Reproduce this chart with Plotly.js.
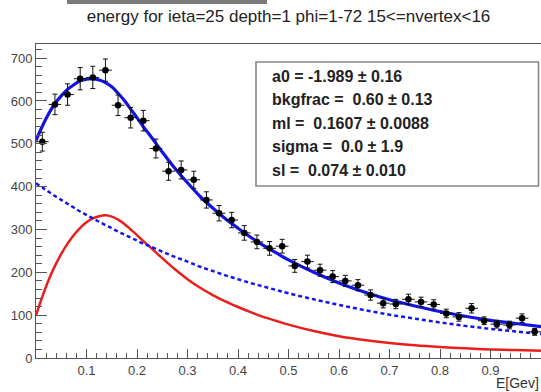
<!DOCTYPE html>
<html>
<head>
<meta charset="utf-8">
<script src="https://cdn.plot.ly/plotly-3.0.1.min.js"></script>
<style>
html,body{margin:0;padding:0;background:#fff;overflow:hidden;}
#chart{width:541px;height:392px;}
</style>
</head>
<body>
<div id="chart"></div>
<script>
// Histogram bin centres (E[GeV]) and counts
const binCenters = [0.0125,0.0375,0.0625,0.0875,0.1125,0.1375,0.1625,0.1875,0.2125,0.2375,
                    0.2625,0.2875,0.3125,0.3375,0.3625,0.3875,0.4125,0.4375,0.4625,0.4875,
                    0.5125,0.5375,0.5625,0.5875,0.6125,0.6375,0.6625,0.6875,0.7125,0.7375,
                    0.7625,0.7875,0.8125,0.8375,0.8625,0.8875,0.9125,0.9375,0.9625,0.9875];
const counts = [505,592,615,652,655,672,590,561,554,489,
                436,439,416,369,338,322,292,271,256,261,
                215,225,205,190,180,170,147,128,126,137,
                131,125,104,96,116,87,79,77,93,61];
const countErr = [22,24,25,26,26,26,24,24,24,22,
                  21,21,20,19,18,18,17,16,16,16,
                  15,15,14,14,13,13,12,11,11,12,
                  11,11,10,10,11,9,9,9,10,8];
const binHalfWidth = 0.0125;

// Fit curves
const curveX = [0,0.0125,0.025,0.0375,0.05,0.0625,0.075,0.0875,0.1,0.1125,0.125,0.1375,0.15,
                0.1625,0.175,0.1875,0.2,0.2125,0.225,0.25,0.275,0.3,0.325,0.35,0.375,0.4,
                0.425,0.45,0.475,0.5,0.55,0.6,0.65,0.7,0.75,0.8,0.85,0.9,0.95,1.0];
const totalFit = [508,541,570,594,612,627,638,647,651,652,649,643,633,
                  618,601,581,561,540,521,481,443,409,377,350,325,303,
                  282,263,246,229,200,175,154,136,121.5,108.5,97.5,88,80.5,73];
const bkgFit = [408,398,388,378,369,360,351,342,334,326,318,310,303,
                295,288,281,274,267,261,248,236,225,213,203,193,184,
                175,167,159,151,137,124,112,101,92,83,75,68,62,56];
const sigFit = [100,143,182,215,243,267,287,304,317,326,331,333,330,
                323,313,300,287,273,260,233,207,184,164,147,132,119,
                107,96,87,78,63,51,42,35,29.5,25.5,22.5,20,18.5,17];

const statLines = ["a0 = -1.989 \u00b1 0.16",
                   "bkgfrac =  0.60 \u00b1 0.13",
                   "ml =  0.1607 \u00b1 0.0088",
                   "sigma =  0.0 \u00b1 1.9",
                   "sl =  0.074 \u00b1 0.010"];
const titleText = "energy for ieta=25 depth=1 phi=1-72 15<=nvertex<16";
const xTitle = "E[Gev]";
const xTickVals = [0.1,0.2,0.3,0.4,0.5,0.6,0.7,0.8,0.9,1.0];
const xTickText = ["0.1","0.2","0.3","0.4","0.5","0.6","0.7","0.8","0.9","1"];

const font = "Liberation Sans, Arial, Helvetica, sans-serif";

const traces = [
  {x: curveX, y: sigFit, mode: 'lines', line: {color: 'rgb(235,30,30)', width: 2.5, shape: 'spline', smoothing: 0.8}, hoverinfo: 'skip'},
  {x: curveX, y: bkgFit, mode: 'lines', line: {color: 'rgb(20,20,235)', width: 2.5, dash: '4px,3px', shape: 'spline'}, hoverinfo: 'skip'},
  {x: curveX, y: totalFit, mode: 'lines', line: {color: 'rgb(20,20,225)', width: 3.2, shape: 'spline', smoothing: 0.8}, hoverinfo: 'skip'},
  {x: binCenters, y: counts, mode: 'markers', marker: {color: '#000', size: 6.5, symbol: 'circle'},
   error_y: {type: 'data', array: countErr, visible: true, color: '#111', thickness: 1, width: 2.5},
   error_x: {type: 'constant', value: binHalfWidth, visible: true, color: '#111', thickness: 1, width: 0}}
];

const py = v => (358 - v) / 314;
const px = v => (v - 36) / 505;
const rowY = [76, 99.5, 123, 146.5, 170];

const annotations = statLines.map((t, i) => ({
  xref: 'paper', yref: 'paper', x: px(270), y: py(rowY[i]), xanchor: 'left', yanchor: 'middle',
  text: '<b>' + t + '</b>', showarrow: false, font: {family: font, size: 16, color: '#222'}
}));
annotations.push({xref: 'paper', yref: 'paper', x: 1, y: py(383), xanchor: 'right', yanchor: 'middle',
  text: xTitle, showarrow: false, font: {family: font, size: 14, color: '#333'}});

const layout = {
  width: 541, height: 392,
  margin: {l: 36, r: 0, t: 44, b: 34},
  paper_bgcolor: '#fff', plot_bgcolor: '#fff',
  showlegend: false,
  title: {text: titleText, x: 0.5, xref: 'paper', y: 1 - 16/392, yanchor: 'middle',
          font: {family: font, size: 17, color: '#222'}},
  xaxis: {range: [0, 1], tickmode: 'array', tickvals: xTickVals, ticktext: xTickText,
          ticks: 'inside', ticklen: 9, tickcolor: '#555', showline: true, linecolor: '#555', linewidth: 1,
          mirror: true, showgrid: false, zeroline: false,
          minor: {tickmode: 'linear', tick0: 0, dtick: 0.02, ticks: 'inside', ticklen: 5, tickcolor: '#555', showgrid: false},
          tickfont: {family: font, size: 13, color: '#444'}},
  yaxis: {range: [0, 733], tickmode: 'linear', tick0: 0, dtick: 100,
          ticks: 'inside', ticklen: 11, tickcolor: '#555', showline: true, linecolor: '#555', linewidth: 1,
          mirror: true, showgrid: false, zeroline: false,
          minor: {tickmode: 'linear', tick0: 0, dtick: 20, ticks: 'inside', ticklen: 6, tickcolor: '#555', showgrid: false},
          tickfont: {family: font, size: 13, color: '#444'}},
  shapes: [
    {type: 'rect', xref: 'paper', yref: 'paper', x0: px(256), x1: px(538.5), y0: py(186), y1: py(62),
     line: {color: '#888', width: 1.6}, fillcolor: '#fff', layer: 'above'},
    {type: 'rect', xref: 'paper', yref: 'paper', x0: px(67), x1: px(267), y0: py(4), y1: py(-2),
     line: {width: 0}, fillcolor: '#7a7a7a', layer: 'above'}
  ],
  annotations: annotations
};

Plotly.newPlot('chart', traces, layout, {staticPlot: true, displayModeBar: false});
</script>
</body>
</html>
